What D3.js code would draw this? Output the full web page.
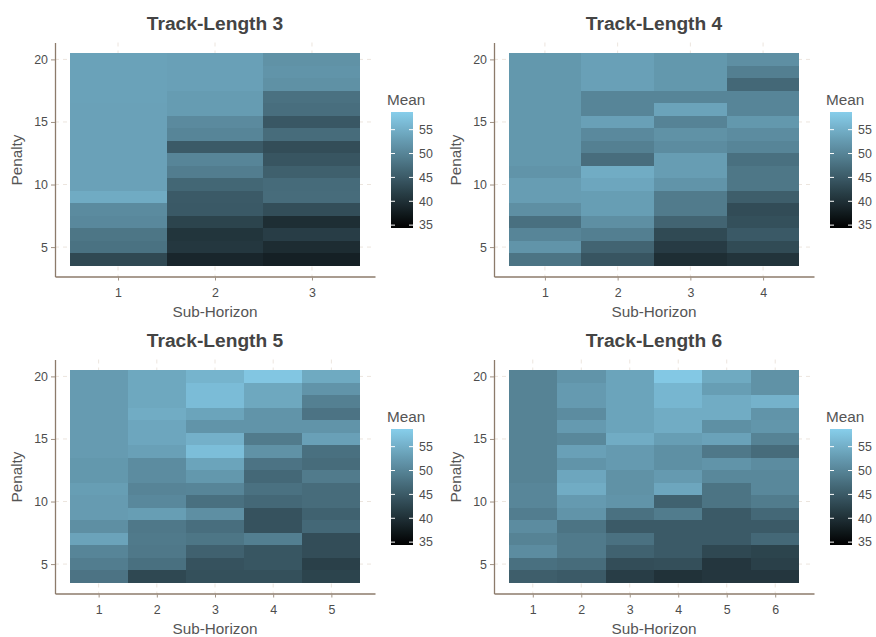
<!DOCTYPE html>
<meta charset="utf-8">
<style>
body { margin: 0; background: #fff; }
text { font-family: "Liberation Sans", Arial, sans-serif; fill: #4d4d4d; }
.title { font-size: 19.2px; font-weight: bold; fill: #444; }
.lab { font-size: 15.3px; fill: #555; }
.tick text { font-size: 12.4px; fill: #4d4d4d; }
</style>
<body>
<script src="https://d3js.org/d3.v7.min.js"></script>
<script>

// penalty rows, top to bottom; every column below follows this order
var penalties = [20, 19, 18, 17, 16, 15, 14, 13, 12, 11, 10, 9, 8, 7, 6, 5, 4];
var titles = ["Track-Length 3", "Track-Length 4", "Track-Length 5", "Track-Length 6"];
var legendTicks = [35, 40, 45, 50, 55];
var meanLimits = [34.4, 58.7];

var tl3 = [
  [53.5, 53.5, 53.5, 53.5, 53.4, 53.4, 53.4, 53.4, 53.4, 53.4, 53.4, 54.6, 50.8, 50.5, 48.3, 47.8, 43.0],
  [53.3, 53.3, 53.3, 52.8, 52.8, 50.7, 50.1, 45.0, 50.1, 49.2, 46.5, 45.0, 44.9, 42.4, 40.6, 40.9, 38.9],
  [51.6, 51.9, 51.5, 47.7, 47.4, 44.7, 47.1, 43.5, 44.4, 45.7, 47.0, 47.1, 43.6, 39.8, 41.6, 39.6, 38.2]
];
var tl4 = [
  [52.3, 52.3, 52.3, 52.3, 52.3, 52.3, 52.3, 52.3, 52.3, 51.9, 52.9, 52.9, 51.3, 47.6, 50.1, 51.9, 48.1],
  [53.3, 53.3, 53.3, 50.1, 50.1, 53.3, 50.6, 49.5, 47.3, 54.7, 54.0, 53.0, 53.0, 51.3, 49.4, 46.2, 44.4],
  [52.3, 52.3, 52.3, 50.1, 53.6, 49.9, 51.6, 50.9, 52.9, 52.9, 51.9, 48.9, 48.9, 46.2, 43.1, 41.4, 39.8],
  [51.3, 49.4, 46.7, 50.1, 50.1, 52.3, 50.9, 50.1, 47.6, 48.4, 48.4, 45.5, 43.4, 43.8, 44.9, 43.2, 40.5]
];
var tl5 = [
  [52.7, 52.7, 52.7, 52.7, 52.7, 52.7, 52.7, 52.3, 52.3, 53.0, 52.7, 52.7, 51.3, 53.6, 50.1, 49.2, 48.0],
  [54.2, 54.2, 54.2, 54.7, 54.0, 54.0, 53.3, 50.9, 50.9, 50.0, 50.5, 53.0, 48.6, 48.8, 48.6, 47.6, 42.9],
  [55.6, 56.6, 56.6, 53.7, 51.9, 55.2, 56.8, 53.7, 52.3, 50.1, 47.6, 51.3, 47.4, 48.3, 45.9, 44.1, 43.8],
  [57.8, 54.2, 54.2, 51.9, 51.9, 48.9, 51.6, 48.0, 46.7, 47.7, 46.7, 44.1, 44.1, 49.4, 44.5, 44.5, 43.8],
  [54.4, 51.9, 49.5, 48.0, 51.9, 53.3, 47.6, 47.1, 48.9, 47.1, 47.1, 46.0, 46.7, 43.5, 43.5, 42.0, 42.4]
];
var tl6 = [
  [49.8, 49.8, 49.8, 49.8, 49.8, 49.8, 49.8, 49.8, 49.8, 50.2, 50.2, 49.2, 50.9, 49.8, 50.9, 47.6, 45.5],
  [51.9, 52.6, 52.6, 50.9, 52.6, 50.4, 53.3, 51.9, 54.0, 54.7, 52.6, 51.9, 48.1, 48.8, 48.8, 47.1, 45.0],
  [53.7, 53.7, 53.7, 53.7, 53.7, 54.7, 52.6, 52.6, 51.6, 51.6, 51.9, 47.7, 45.0, 47.7, 46.0, 43.5, 41.6],
  [58.0, 55.9, 55.9, 54.7, 54.7, 53.0, 51.4, 51.4, 52.6, 54.0, 46.0, 49.0, 45.0, 45.0, 45.0, 43.7, 40.3],
  [54.4, 53.0, 54.7, 54.7, 51.4, 53.5, 48.6, 51.9, 50.4, 48.1, 48.1, 45.0, 45.0, 45.0, 42.9, 40.8, 40.8],
  [51.6, 51.6, 55.4, 51.9, 52.1, 49.8, 47.1, 50.9, 50.4, 50.4, 49.0, 46.7, 45.0, 46.7, 42.4, 42.0, 40.8]
];

var panelData = [tl3, tl4, tl5, tl6];
var offsets = [[0, 0], [439, 0], [0, 317], [439, 317]];

var width = 876, height = 637;
var axisColor = "#8c7b6b", gridColor = "#ece5de";

var color = d3.scaleLinear()
    .domain(meanLimits)
    .range(["#000000", "#87ceeb"])
    .interpolate(d3.interpolateRgb);

var svg = d3.select("body").append("svg")
    .attr("width", width)
    .attr("height", height);

var grad = svg.append("defs").append("linearGradient")
    .attr("id", "meanGrad")
    .attr("x1", 0).attr("y1", 1).attr("x2", 0).attr("y2", 0);
d3.range(0, 1.0001, 0.05).forEach(function(t) {
  grad.append("stop")
      .attr("offset", t)
      .attr("stop-color", color(meanLimits[0] + t * (meanLimits[1] - meanLimits[0])));
});

panelData.forEach(function(cols, k) {
  var g = svg.append("g")
      .attr("transform", "translate(" + offsets[k][0] + "," + offsets[k][1] + ")");
  var n = cols.length;
  var subs = d3.range(1, n + 1);

  // 5% expansion like ggplot
  var x = d3.scaleLinear()
      .domain([0.5 - 0.05 * n, n + 0.5 + 0.05 * n])
      .range([55, 375]);
  var y = d3.scaleLinear()
      .domain([3.5 - 0.85, 20.5 + 0.85])
      .range([276.5, 42.5]);

  // grid
  g.selectAll(".vgrid").data(subs).enter().append("line")
      .attr("x1", d => x(d)).attr("x2", d => x(d))
      .attr("y1", 42.5).attr("y2", 276.5)
      .attr("stroke", gridColor).attr("stroke-dasharray", "4,4");
  g.selectAll(".hgrid").data([5, 10, 15, 20]).enter().append("line")
      .attr("y1", d => y(d)).attr("y2", d => y(d))
      .attr("x1", 55).attr("x2", 375)
      .attr("stroke", gridColor).attr("stroke-dasharray", "4,4");

  // tiles
  var cells = [];
  cols.forEach(function(col, i) {
    col.forEach(function(v, j) {
      cells.push({sub: i + 1, pen: penalties[j], mean: v});
    });
  });
  g.append("g").attr("shape-rendering", "crispEdges")
    .selectAll("rect").data(cells).enter().append("rect")
      .attr("x", d => x(d.sub - 0.5))
      .attr("y", d => y(d.pen + 0.5))
      .attr("width", d => x(d.sub + 0.5) - x(d.sub - 0.5))
      .attr("height", d => y(d.pen - 0.5) - y(d.pen + 0.5))
      .attr("fill", d => color(d.mean));

  // axes
  var ya = g.append("g")
      .attr("transform", "translate(55,0)")
      .call(d3.axisLeft(y).tickValues([5, 10, 15, 20]).tickSize(4).tickSizeOuter(0).tickPadding(3));
  var xa = g.append("g")
      .attr("transform", "translate(0,276.5)")
      .call(d3.axisBottom(x).tickValues(subs).tickFormat(d3.format("d")).tickSize(4).tickSizeOuter(0).tickPadding(8));
  [ya, xa].forEach(function(a) {
    a.select(".domain").attr("stroke", axisColor).attr("stroke-width", 1.3);
    a.selectAll(".tick line").attr("stroke", "#a09284");
  });

  g.append("text").attr("class", "title")
      .attr("x", 215).attr("y", 30)
      .attr("text-anchor", "middle")
      .text(titles[k]);
  g.append("text").attr("class", "lab")
      .attr("x", 215).attr("y", 317)
      .attr("text-anchor", "middle")
      .text("Sub-Horizon");
  g.append("text").attr("class", "lab")
      .attr("transform", "translate(21.5,160) rotate(-90)")
      .attr("text-anchor", "middle")
      .text("Penalty");

  // legend
  var lg = g.append("g").attr("transform", "translate(391,0)");
  var ly = d3.scaleLinear().domain(meanLimits).range([228, 112]);
  lg.append("text").attr("class", "lab")
      .attr("x", -4).attr("y", 105)
      .text("Mean");
  lg.append("rect")
      .attr("x", 0).attr("y", 112)
      .attr("width", 22).attr("height", 116)
      .attr("fill", "url(#meanGrad)");
  lg.selectAll(".lt").data(legendTicks).enter().append("path")
      .attr("d", d => "M0," + ly(d) + "h4M18," + ly(d) + "h4")
      .attr("stroke", "#fff").attr("stroke-width", 1);
  lg.selectAll(".ll").data(legendTicks).enter().append("text")
      .attr("x", 28).attr("y", d => ly(d))
      .attr("dy", "0.35em")
      .style("font-size", "12.4px")
      .text(d => d);
});
</script>
